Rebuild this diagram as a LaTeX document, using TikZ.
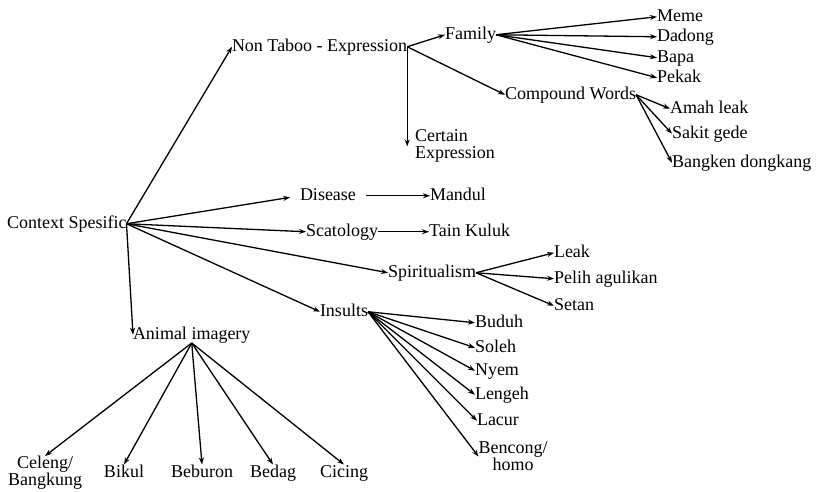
\documentclass[tikz,border=0pt]{standalone}
\usepackage{fontspec}
\setmainfont{Liberation Serif}
\usetikzlibrary{arrows.meta,calc}
\begin{document}
\begin{tikzpicture}[x=1pt,y=-1pt,
  lbl/.style={font=\fontsize{18}{17}\selectfont, inner sep=0pt, outer sep=0pt, text height=12.5pt, text depth=4pt, anchor=base west},
  mlbl/.style={font=\fontsize{18}{17}\selectfont, inner sep=0pt, outer sep=0pt},
  arr/.style={-{Stealth[length=7pt,width=5pt]}, line width=1.3pt},
  ln/.style={line width=1.3pt}]
\useasboundingbox (0,0) rectangle (819,491);
% nodes
\node[lbl] (CS) at (7,228) {Context Spesific};
\node[lbl] (NTE) at (232,51) {Non Taboo - Expression};
\node[lbl] (Fam) at (445,39) {Family};
\node[lbl] (Meme) at (657,21) {Meme};
\node[lbl] (Dad) at (657,41) {Dadong};
\node[lbl] (Bapa) at (657,62) {Bapa};
\node[lbl] (Pek) at (657,82) {Pekak};
\node[lbl] (CW) at (505,99) {Compound Words};
\node[lbl] (Amah) at (670,113) {Amah leak};
\node[lbl] (Sak) at (672,138) {Sakit gede};
\node[lbl] (Bang) at (672,167) {Bangken dongkang};
\node[mlbl, align=left, anchor=north west] (Cert) at (415,130) {Certain\\Expression};
\node[lbl] (Dis) at (300,200) {Disease};
\node[lbl] (Man) at (430,200) {Mandul};
\node[lbl] (Sca) at (306,236) {Scatology};
\node[lbl] (Tain) at (429,236) {Tain Kuluk};
\node[lbl] (Spi) at (388,277) {Spiritualism};
\node[lbl] (Leak) at (554,257) {Leak};
\node[lbl] (Pel) at (554,283) {Pelih agulikan};
\node[lbl] (Set) at (554,310) {Setan};
\node[lbl] (Ins) at (320,316) {Insults};
\node[lbl] (Bud) at (475,327) {Buduh};
\node[lbl] (Sol) at (475,352) {Soleh};
\node[lbl] (Nyem) at (475,375) {Nyem};
\node[lbl] (Len) at (475,399) {Lengeh};
\node[lbl] (Lac) at (477,425) {Lacur};
\node[mlbl, align=center, anchor=north] (Ben) at (513,442) {Bencong/\\homo};
\node[lbl] (AI) at (133,339) {Animal imagery};
\node[mlbl, align=center, anchor=north] (Cel) at (45,456) {Celeng/\\Bangkung};
\node[lbl, anchor=base] (Bik) at (124,477) {Bikul};
\node[lbl, anchor=base] (Beb) at (202,477) {Beburon};
\node[lbl, anchor=base] (Bed) at (273,477) {Bedag};
\node[lbl, anchor=base] (Cic) at (344,477) {Cicing};
% connectors from Context Spesific
\draw[arr] (CS.east) -- (NTE.west);
\draw[arr, shorten >=10pt] (CS.east) -- (Dis.west);
\draw[arr] (CS.east) -- (Sca.west);
\draw[arr] (CS.east) -- (Spi.west);
\draw[arr] (CS.east) -- (Ins.west);
\draw[arr] (CS.east) -- (AI.west);
% Non Taboo
\draw[arr] (NTE.east) -- (Fam.west);
\draw[arr] (NTE.east) -- (CW.west);
\draw[arr] (NTE.east) -- (NTE.east |- Cert.west);
% Family
\draw[arr] (Fam.east) -- (Meme.west);
\draw[arr] (Fam.east) -- (Dad.west);
\draw[arr] (Fam.east) -- (Bapa.west);
\draw[arr] (Fam.east) -- (Pek.west);
% Compound words
\draw[arr] (CW.east) -- (Amah.west);
\draw[arr] (CW.east) -- (Sak.west);
\draw[arr] (CW.east) -- (Bang.west);
% Disease, Scatology
\draw[arr, shorten <=10pt] (Dis.east) -- (Man.west);
\draw[arr] (Sca.east) -- (Tain.west);
% Spiritualism
\draw[arr] (Spi.east) -- (Leak.west);
\draw[arr] (Spi.east) -- (Pel.west);
\draw[arr] (Spi.east) -- (Set.west);
% Insults
\draw[arr] (Ins.east) -- (Bud.west);
\draw[arr] (Ins.east) -- (Sol.west);
\draw[arr] (Ins.east) -- (Nyem.west);
\draw[arr] (Ins.east) -- (Len.west);
\draw[arr] (Ins.east) -- (Lac.west);
\draw[arr] (Ins.east) -- (Ben.west);
% Animal imagery
\draw[arr] (AI.south) -- (Cel.north);
\draw[arr] (AI.south) -- (Bik.north);
\draw[arr] (AI.south) -- (Beb.north);
\draw[arr] (AI.south) -- (Bed.north);
\draw[arr] (AI.south) -- (Cic.north);
\end{tikzpicture}
\end{document}
